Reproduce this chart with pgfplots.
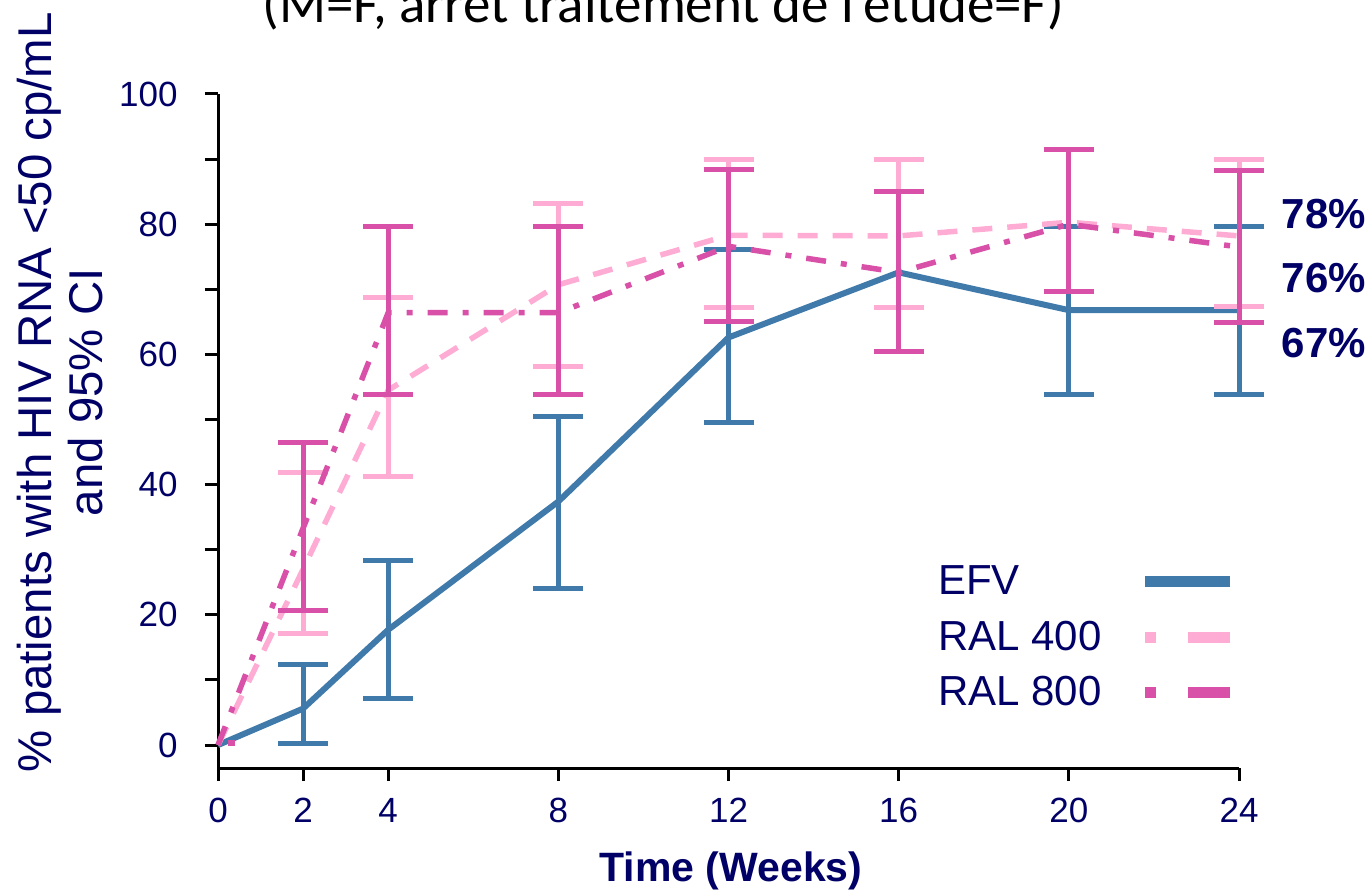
\documentclass[border=0pt]{standalone}
\usepackage{fontspec}
\setmainfont{Liberation Sans}
\newfontfamily\calibri{Carlito}
\usepackage{pgfplots}
\pgfplotsset{compat=1.18}
\definecolor{efv}{RGB}{64,122,170}
\definecolor{ral4}{RGB}{255,172,212}
\definecolor{ral8}{RGB}{216,80,168}
\definecolor{navy}{RGB}{0,0,102}

\begin{document}
\begin{tikzpicture}
\useasboundingbox (0,0) rectangle (684.5pt,445.5pt);
\node[anchor=base, inner sep=0pt, font=\calibri\fontsize{27.5}{32}\selectfont] at (331.5pt,434pt) {(M=F, arrêt traitement de l’étude=F)};
\begin{axis}[
  at={(109pt,61.5pt)}, anchor=south west,
  scale only axis, width=510.5pt, height=337pt,
  xmin=0, xmax=24, ymin=-3.53, ymax=100,
  axis x line=bottom, axis y line=left,
  axis line style={-, line width=1.5pt, black},
  xtick={0,2,4,8,12,16,20,24},
  ytick={0,20,...,100}, minor ytick={10,30,...,90},
  tick align=outside,
  major tick length=6.5pt, minor tick length=6.5pt,
  every tick/.style={line width=1.5pt, black},
  minor tick style={line width=1.5pt, black},
  /pgf/number format/assume math mode=true,
  ticklabel style={font=\fontsize{17.5}{20}\selectfont, text=navy, inner sep=0pt},
  xticklabel style={anchor=north, yshift=-8.5pt},
  yticklabel style={anchor=east, xshift=-13.5pt},
  xlabel={\textbf{Time (Weeks)}},
  xlabel style={at={(axis description cs:0.5024,-0.169)}, anchor=base, inner sep=0pt, font=\fontsize{20.5}{24}\selectfont, text=navy},
  ylabel={\% patients with HIV RNA <50 cp/mL\\and 95\% CI},
  ylabel style={at={(axis description cs:-0.1548,0.5576)}, anchor=center, rotate=0, align=center, inner sep=0pt, font=\fontsize{23.7}{25.5}\selectfont, text=navy},
  clip=false,
  legend plot pos=right,
  legend cell align=left,
  legend image code/.code={\draw[#1, line width=5.5pt] (0pt,0pt) -- (42.5pt,0pt);},
  legend style={draw=none, fill=none, inner sep=0pt, outer sep=0pt,
    nodes={inner sep=0pt, text=navy, font=\fontsize{21}{25}\selectfont},
    row sep=11.5pt, column sep=19pt,
    at={(axis cs:16.93,27.5)}, anchor=north west},
]
\addlegendimage{efv}
\addlegendimage{ral4, dash pattern=on 5.5pt off 16pt on 21.5pt}
\addlegendimage{ral8, dash pattern=on 5.5pt off 16pt on 21.5pt}

% EFV
\addplot[efv, line width=3pt, forget plot] table[x=x, y=y] {
x y
0 0
2 5.6
4 17.7
8 37.4
12 62.6
16 72.6
20 66.8
24 66.8
};
\addplot[forget plot, draw=none, mark=none,
  error bars/.cd, y dir=both, y explicit,
  error bar style={draw=efv, solid, line width=2.5pt},
  error mark options={draw=efv, solid, rotate=90, line width=2.5pt, mark size=12.5pt}]
  table[x=x, y=y, y error plus=ep, y error minus=em] {
x y ep em
2 5.6 6.7 5.3
4 17.7 10.6 10.5
8 37.4 13.1 13.3
12 62.6 13.5 13.1
20 66.8 12.9 13.0
24 66.8 12.9 13.0
};

% RAL 400
\addplot[ral4, line width=2.75pt, dash pattern=on 10pt off 7.5pt, forget plot] table[x=x, y=y] {
x y
0 0
2 27
4 54.5
8 70.7
12 78.3
16 78.2
20 80.3
24 78.2
};
\addplot[forget plot, draw=none, mark=none,
  error bars/.cd, y dir=both, y explicit,
  error bar style={draw=ral4, solid, line width=2.5pt},
  error mark options={draw=ral4, solid, rotate=90, line width=2.5pt, mark size=12.5pt}]
  table[x=x, y=y, y error plus=ep, y error minus=em] {
x y ep em
2 27 14.9 9.8
4 54.5 14.2 13.2
8 70.7 12.5 12.6
12 78.3 11.6 11.1
16 78.2 11.7 11.0
24 78.2 11.8 10.9
};

% RAL 800
\addplot[ral8, line width=2.75pt, dash pattern=on 10pt off 7.5pt on 3pt off 7.5pt, forget plot] table[x=x, y=y] {
x y
0 0
2 33.3
4 66.4
8 66.4
12 76.6
16 72.6
20 80.0
24 76.5
};
\addplot[forget plot, draw=none, mark=none,
  error bars/.cd, y dir=both, y explicit,
  error bar style={draw=ral8, solid, line width=2.5pt},
  error mark options={draw=ral8, solid, rotate=90, line width=2.5pt, mark size=12.5pt}]
  table[x=x, y=y, y error plus=ep, y error minus=em] {
x y ep em
2 33.3 13.1 12.7
4 66.4 13.3 12.6
8 66.4 13.3 12.6
12 76.6 11.8 11.6
16 72.6 12.5 12.2
20 80.0 11.5 10.4
24 76.5 11.8 11.6
};
\addplot[forget plot, only marks, mark=square*, mark size=1.4pt, ral8] coordinates {(0.32,0.3)};

\node[anchor=west, inner sep=0pt, font=\bfseries\fontsize{21}{25}\selectfont, text=navy] at (axis cs:25.0,81.6) {78\%};
\node[anchor=west, inner sep=0pt, font=\bfseries\fontsize{21}{25}\selectfont, text=navy] at (axis cs:25.0,71.7) {76\%};
\node[anchor=west, inner sep=0pt, font=\bfseries\fontsize{21}{25}\selectfont, text=navy] at (axis cs:25.0,61.75) {67\%};

\legend{EFV, RAL 400, RAL 800}
\end{axis}
\end{tikzpicture}
\end{document}
